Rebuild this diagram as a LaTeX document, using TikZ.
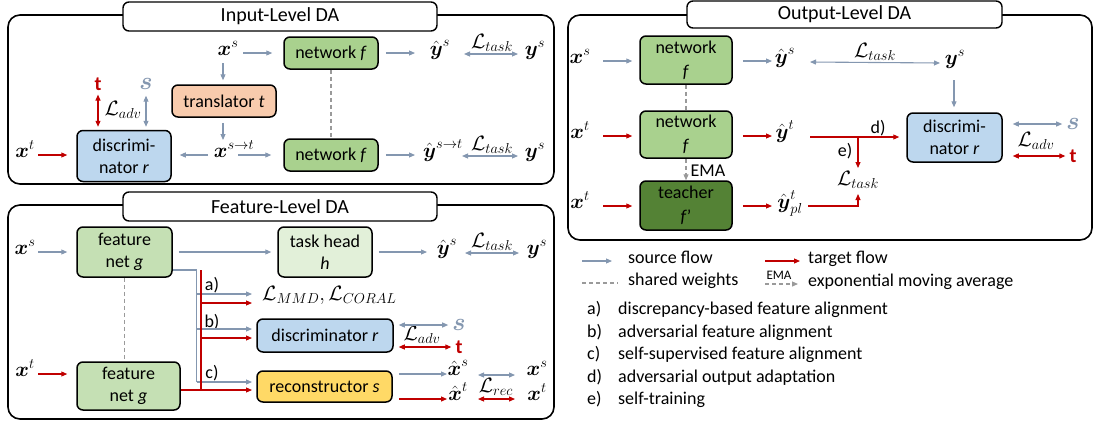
\documentclass[tikz,border=0pt]{standalone}
\usepackage{amsmath}
\usepackage{fontspec}
\setmainfont{Carlito}
\usetikzlibrary{arrows.meta,calc}
\DeclareMathSizes{18}{20}{15.5}{12}
\DeclareMathSizes{21}{23}{17}{13}

\definecolor{srcc}{HTML}{8497B0}
\definecolor{tgtc}{HTML}{C00000}
\definecolor{shwc}{HTML}{9A9A9A}
\definecolor{netc}{HTML}{A9D18E}
\definecolor{fgc}{HTML}{C5E0B4}
\definecolor{hdc}{HTML}{E2F0D9}
\definecolor{tcc}{HTML}{548235}
\definecolor{dsc}{HTML}{BDD7EE}
\definecolor{trc}{HTML}{F8CBAD}
\definecolor{rcc}{HTML}{FFD966}

\newcommand{\bx}{\boldsymbol{x}}
\newcommand{\by}{\boldsymbol{y}}
\newcommand{\hx}{\hat{\boldsymbol{x}}}
\newcommand{\hy}{\hat{\boldsymbol{y}}}
\newcommand{\Lo}[1]{\mathcal{L}_{#1}}

\tikzset{
  panel/.style={draw=black, line width=1.6pt, rounded corners=12pt},
  tab/.style={draw=black, line width=1.4pt, fill=white, rounded corners=6pt,
    inner sep=0pt, font=\fontsize{20}{24}\selectfont},
  box/.style={draw=black, line width=1.5pt, rounded corners=6pt, align=center, inner sep=2pt},
  lab/.style={anchor=mid, inner sep=0pt},
  tip/.style={-{Triangle[length=6pt,width=5pt]}},
  sl/.style={draw=srcc, line width=1.1pt},
  tl/.style={draw=tgtc, line width=1.1pt},
  sa/.style={sl, tip},
  ta/.style={tl, tip},
  sd/.style={sl, {Triangle[length=6pt,width=5pt]}-{Triangle[length=6pt,width=5pt]}},
  td/.style={tl, {Triangle[length=6pt,width=5pt]}-{Triangle[length=6pt,width=5pt]}},
  shw/.style={draw=shwc, line width=1.1pt, dash pattern=on 4pt off 3pt},
  slab/.style={inner sep=0pt, text=srcc, font=\fontsize{21}{24}\selectfont},
  tlab/.style={inner sep=0pt, text=tgtc, font=\fontsize{20}{24}\selectfont\bfseries},
}

\begin{document}
\begin{tikzpicture}[x=1pt, y=-1pt, font=\fontsize{18}{22}\selectfont]
\useasboundingbox (0,0) rectangle (1094,421);

% ---------------- Input-Level DA ----------------
\draw[panel] (8,15) rectangle (554,184);
\node[tab, minimum width=314pt, minimum height=29pt] (ttlA) at (280,16.5) {Input-Level DA};

\node[box, fill=netc, minimum width=94pt, minimum height=32pt] (netA) at (331,53) {network \textit{f}};
\node[box, fill=netc, minimum width=94pt, minimum height=32pt] (netB) at (331,155) {network \textit{f}};
\node[box, fill=trc, minimum width=104pt, minimum height=32pt] (trans) at (224,101) {translator \textit{t}};
\node[box, fill=dsc, minimum width=94pt, minimum height=51pt] (discA) at (124,156) {discrimi-\\nator \textit{r}};

\node[lab] (xsA) at (228,53) {$\bx^s$};
\node[lab] (ysA) at (440,53) {$\hy^s$};
\node[lab] (ysA2) at (535,53) {$\by^s$};
\node[lab] (xstA) at (234,155) {$\bx^{s\rightarrow t}$};
\node[lab] (ystA) at (443,155) {$\hy^{s\rightarrow t}$};
\node[lab] (ysA3) at (535,155) {$\by^s$};
\node[lab] (xtA) at (25,155) {$\bx^t$};
\node[tlab] (tA) at (98,84) {t};
\node[slab] (sA) at (146,84) {$\boldsymbol{s}$};
\node[inner sep=0pt] (LadvA) at (123,110) {$\Lo{adv}$};
\node[inner sep=0pt] (LtA1) at (492,43) {$\Lo{task}$};
\node[inner sep=0pt] (LtA2) at (492,145) {$\Lo{task}$};

\draw[sa] ($(xsA.mid)+(15,0)$) -- ($(netA.west |- xsA.mid)+(-11,0)$);
\draw[sa] ($(xsA.mid)+(-5,10)$) -- ($(trans.north)+(-1,-4)$);
\draw[sa] ($(trans.south)+(-1,5)$) -- ($(xstA.mid)+(-11,-15)$);
\draw[sa] ($(xstA.mid)+(-26,0)$) -- ($(discA.east |- xstA.mid)+(8,0)$);
\draw[sa] ($(xstA.mid)+(4,0)$) -- ($(netB.west |- xstA.mid)+(-12,0)$);
\draw[sa] ($(netA.east)+(7,0)$) -- ($(ysA.mid |- netA.east)+(-25,0)$);
\draw[sd] ($(ysA.mid)+(24,1)$) -- ($(ysA2.mid)+(-17,1)$);
\draw[sa] ($(netB.east)+(7,0)$) -- ($(ystA.mid |- netB.east)+(-28,0)$);
\draw[sd] ($(ystA.mid)+(19,1)$) -- ($(ysA3.mid)+(-17,1)$);
\draw[ta] ($(xtA.mid)+(13,0)$) -- ($(discA.west |- xtA.mid)+(-9,0)$);
\draw[td] ($(tA.south)+(0,4)$) -- ($(tA.south |- discA.north)+(0,-3)$);
\draw[sd] ($(sA.south)+(0,6)$) -- ($(sA.south |- discA.north)+(0,-3)$);
\draw[shw] (netA.south) -- (netB.north);

% ---------------- Feature-Level DA ----------------
\draw[panel] (8,205) rectangle (554,419);
\node[tab, minimum width=314pt, minimum height=29pt] (ttlF) at (280,206.5) {Feature-Level DA};

\node[box, fill=fgc, minimum width=95pt, minimum height=50pt] (fgA) at (124.5,252) {feature\\net \textit{g}};
\node[box, fill=fgc, minimum width=103pt, minimum height=48pt] (fgB) at (128.5,386) {feature\\net \textit{g}};
\node[box, fill=hdc, minimum width=94pt, minimum height=50pt] (head) at (325,252) {task head\\\textit{h}};
\node[box, fill=dsc, minimum width=136pt, minimum height=33pt] (discF) at (325,335.5) {discriminator \textit{r}};
\node[box, fill=rcc, minimum width=135pt, minimum height=31pt] (recF) at (324.5,386.5) {reconstructor \textit{s}};

\node[lab] (xsF) at (25,252) {$\bx^s$};
\node[lab] (xtF) at (25,374) {$\bx^t$};
\node[lab] (ysF) at (447,252) {$\hy^s$};
\node[lab] (ysF2) at (537,252) {$\by^s$};
\node[inner sep=0pt] (LtF) at (492,242) {$\Lo{task}$};
\node[lab, anchor=mid west] (LmF) at (262,298) {$\Lo{MMD}, \Lo{CORAL}$};
\node[slab] (ssF) at (459,325) {$\boldsymbol{s}$};
\node[tlab] (ttF) at (459,347) {t};
\node[inner sep=0pt] (LadvF) at (422,335) {$\Lo{adv}$};
\node[lab] (xhsF) at (458,373) {$\hx^s$};
\node[lab] (xhtF) at (458,398) {$\hx^t$};
\node[lab] (xsF2) at (537,373) {$\bx^s$};
\node[lab] (xtF2) at (537,398) {$\bx^t$};
\node[inner sep=0pt] (LrecF) at (496,387) {$\Lo{rec}$};
\node[inner sep=0pt] (la) at (212,285) {a)};
\node[inner sep=0pt] (lb) at (212,322) {b)};
\node[inner sep=0pt] (lc) at (212,373) {c)};

\draw[sa] ($(xsF.mid)+(13,0)$) -- ($(fgA.west |- xsF.mid)+(-9,0)$);
\draw[ta] ($(xtF.mid)+(13,0)$) -- ($(fgB.west |- xtF.mid)+(-9,0)$);
\draw[sa] ($(fgA.east)+(6,0)$) -- ($(head.west)+(-6,0)$);
\draw[sa] ($(head.east)+(6,0)$) -- ($(ysF.mid |- head.east)+(-20,0)$);
\draw[sd] ($(ysF.mid)+(18,1)$) -- ($(ysF2.mid)+(-18,1)$);
\draw[shw] (fgA.south) -- (fgA.south |- fgB.north);

% branching of source and target features
\coordinate (jS) at (196.5,270);
\coordinate (jT) at (201,270);
\coordinate (eSa) at (252,294);
\coordinate (eTa) at (252,303);
\coordinate (eSb) at (252,329);
\coordinate (eTb) at (252,338);
\coordinate (eSc) at (252,382);
\coordinate (eTc) at (252,390);
\draw[sl] (fgA.east |- jS) -- (jS) -- (jS |- eSc);
\draw[sa] (jS |- eSa) -- (eSa);
\draw[sa] (jS |- eSb) -- (eSb);
\draw[sa] (jS |- eSc) -- (eSc);
\draw[tl] (fgB.east |- eTc) -- (jT |- eTc) -- (jT);
\draw[ta] (jT |- eTa) -- (eTa);
\draw[ta] (jT |- eTb) -- (eTb);
\draw[ta] (jT |- eTc) -- (eTc);

\draw[sd] ($(discF.east |- ssF)+(5,0)$) -- ($(ssF.west)+(-4,0)$);
\draw[td] ($(discF.east |- ttF)+(5,0)$) -- ($(ttF.west)+(-4,0)$);
\draw[sa] ($(recF.east |- xhsF.mid)+(6,1)$) -- ($(xhsF.mid)+(-11,1)$);
\draw[ta] ($(recF.east |- xhtF.mid)+(6,1)$) -- ($(xhtF.mid)+(-11,1)$);
\draw[sd] ($(xhsF.mid)+(20,2)$) -- ($(xsF2.mid)+(-22,2)$);
\draw[td] ($(xhtF.mid)+(20,1)$) -- ($(xtF2.mid)+(-22,1)$);

% ---------------- Output-Level DA ----------------
\draw[panel] (568,15) rectangle (1092,240);
\node[tab, minimum width=315pt, minimum height=27pt] (ttlO) at (844.5,14.5) {Output-Level DA};

\node[box, fill=netc, minimum width=92pt, minimum height=48pt, font=\fontsize{18}{24}\selectfont] (netO1) at (686,60) {network\\\textit{f}};
\node[box, fill=netc, minimum width=92pt, minimum height=47pt, font=\fontsize{18}{24}\selectfont] (netO2) at (686,134.5) {network\\\textit{f}};
\node[box, fill=tcc, minimum width=92pt, minimum height=49pt, font=\fontsize{18}{24}\selectfont] (teach) at (686,205.5) {teacher\\\textit{f}’};
\node[box, fill=dsc, minimum width=95pt, minimum height=49pt] (discO) at (954.5,137.5) {discrimi-\\nator \textit{r}};

\node[lab] (xsO) at (580,61) {$\bx^s$};
\node[lab] (xtO1) at (580,136) {$\bx^t$};
\node[lab] (xtO2) at (580,206) {$\bx^t$};
\node[lab] (ysO) at (785,61) {$\hy^s$};
\node[lab] (ytO) at (785,136) {$\hy^t$};
\node[lab] (yplO) at (790,206) {$\hy^t_{pl}$};
\node[lab] (ysO2) at (955,62) {$\by^s$};
\node[inner sep=0pt] (LtO1) at (875,52) {$\Lo{task}$};
\node[inner sep=0pt, anchor=north] (LtO2) at (858,171) {$\Lo{task}$};
\node[slab] (sO) at (1073,124) {$\boldsymbol{s}$};
\node[tlab] (tO) at (1073,156) {t};
\node[inner sep=0pt] (LadvO) at (1036,141) {$\Lo{adv}$};
\node[inner sep=0pt] (ldO) at (878,128) {d)};
\node[inner sep=0pt] (leO) at (845,151) {e)};
\node[inner sep=0pt] (emaO) at (708,171) {EMA};

\draw[sa] ($(xsO.mid)+(23,0)$) -- ($(netO1.west |- xsO.mid)+(-7,0)$);
\draw[sa] ($(netO1.east |- ysO.mid)+(10,0)$) -- ($(ysO.mid)+(-13,0)$);
\draw[sd] ($(ysO.mid)+(25,1)$) -- ($(ysO2.mid)+(-15,1)$);
\draw[sa] ($(ysO2.mid)+(-1,18)$) -- ($(ysO2.mid |- discO.north)+(-1,-5)$);
\draw[shw] (netO1.south) -- (netO2.north);
\draw[ta] ($(xtO1.mid)+(23,0)$) -- ($(netO2.west |- xtO1.mid)+(-7,0)$);
\draw[ta] ($(netO2.east |- ytO.mid)+(10,0)$) -- ($(ytO.mid)+(-13,0)$);
\coordinate (jO) at (858,137);
\draw[ta] ($(ytO.mid |- jO)+(25,0)$) -- ($(discO.west |- jO)+(-7,0)$);
\draw[ta] (jO) -- ($(LtO2.north)+(0,-3)$);
\draw[shw, tip] (netO2.south) -- (teach.north);
\draw[ta] ($(xtO2.mid)+(23,0)$) -- ($(teach.west |- xtO2.mid)+(-7,0)$);
\draw[ta] ($(teach.east |- yplO.mid)+(10,0)$) -- ($(yplO.mid)+(-18,0)$);
\draw[ta] ($(yplO.mid)+(18,0)$) -- (jO |- yplO.mid) -- ($(jO)+(0,57)$);
\draw[sd] ($(discO.east |- sO)+(10,0)$) -- ($(sO.west)+(-4,0)$);
\draw[td] ($(discO.east |- tO)+(10,0)$) -- ($(tO.west)+(-4,0)$);

% ---------------- legend ----------------
\coordinate (lgSa) at (582,261);
\coordinate (lgSb) at (612,261);
\coordinate (lgTa) at (765,261);
\coordinate (lgTb) at (800,261);
\coordinate (lgWa) at (582,283);
\coordinate (lgWb) at (618,283);
\coordinate (lgEa) at (765,284);
\coordinate (lgEb) at (798,284);
\draw[sa] (lgSa) -- (lgSb);
\draw[ta] (lgTa) -- (lgTb);
\draw[shw] (lgWa) -- (lgWb);
\draw[shw, tip] (lgEa) -- (lgEb);
\node[lab, anchor=mid west] (lgS) at (628,261) {source flow};
\node[lab, anchor=mid west] (lgT) at (808,261) {target flow};
\node[lab, anchor=mid west] (lgW) at (628,283) {shared weights};
\node[inner sep=0pt, font=\fontsize{13}{15}\selectfont] (lgEma) at (779,275) {EMA};
\node[lab, anchor=mid west] (lgE) at (808,284) {exponential moving average};

\node[lab, anchor=mid west] (kA) at (587,312) {a)};
\node[lab, anchor=mid west] (kB) at (587,335) {b)};
\node[lab, anchor=mid west] (kC) at (587,357) {c)};
\node[lab, anchor=mid west] (kD) at (587,380) {d)};
\node[lab, anchor=mid west] (kE) at (587,402) {e)};
\node[lab, anchor=mid west] (kAt) at (618,312) {discrepancy-based feature alignment};
\node[lab, anchor=mid west] (kBt) at (618,335) {adversarial feature alignment};
\node[lab, anchor=mid west] (kCt) at (618,357) {self-supervised feature alignment};
\node[lab, anchor=mid west] (kDt) at (618,380) {adversarial output adaptation};
\node[lab, anchor=mid west] (kEt) at (618,402) {self-training};
\end{tikzpicture}
\end{document}
